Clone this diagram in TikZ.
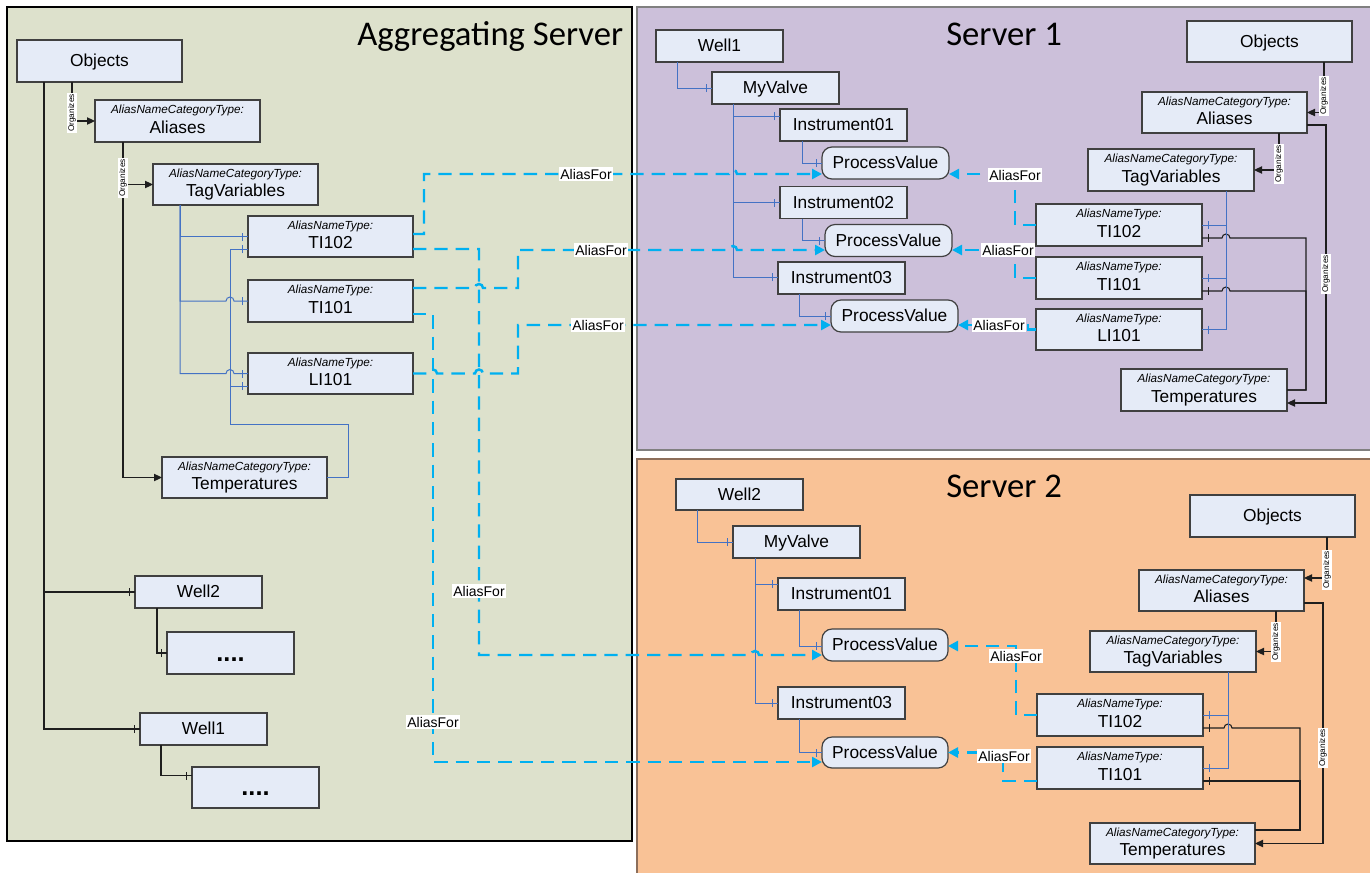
\documentclass[tikz,border=0pt]{standalone}
\usepackage{fontspec}
\setmainfont{Liberation Sans}
\newfontfamily\titlefont{Carlito}
\usetikzlibrary{arrows.meta,calc,decorations.markings}

\definecolor{aggbg}{RGB}{221,225,204}
\definecolor{sonebg}{RGB}{204,192,218}
\definecolor{stwobg}{RGB}{249,194,150}
\definecolor{boxfill}{RGB}{229,235,247}
\definecolor{boxline}{RGB}{64,64,64}
\definecolor{treeblue}{RGB}{68,114,196}
\definecolor{aliascyan}{RGB}{0,176,240}
\definecolor{lineblk}{RGB}{30,30,30}

\tikzset{
  bx/.style={draw=boxline, fill=boxfill, line width=0.9pt, inner sep=0pt, outer sep=0pt},
  rbx/.style={bx, rounded corners=7.5pt},
  typetxt/.style={font=\fontsize{8.8}{10}\selectfont\itshape, inner sep=0pt, anchor=base},
  maintxt/.style={font=\fontsize{13}{15}\selectfont, inner sep=0pt, anchor=base},
  dotstxt/.style={font=\fontsize{19}{20}\selectfont\bfseries, inner sep=0pt, anchor=base},
  titletxt/.style={font=\titlefont\fontsize{26}{30}\selectfont, inner sep=0pt, anchor=base west},
  blk/.style={draw=lineblk, line width=0.8pt},
  tree/.style={draw=treeblue, line width=0.75pt},
  arr/.style={-{Triangle[length=6pt,width=5.5pt]}},
  alias/.style={draw=aliascyan, line width=1.85pt, dash pattern=on 10pt off 6pt,
                -{Triangle[length=7.5pt,width=7.5pt]}},
  org/.style={fill=white, font=\fontsize{6.2}{7}\selectfont, rotate=90, inner sep=0.6pt},
  aliaslbl/.style={fill=white, font=\fontsize{10.5}{12}\selectfont, inner sep=1.2pt},
  onetick/.style={postaction={decorate, decoration={markings,
      mark=at position -4.5pt with {\draw[solid, line width=0.6pt] (0,-3pt) -- (0,3pt);}}}}
}

% name, cx, cy, w, h, type text, main text
\newcommand{\mkTypeBox}[7]{%
  \node[bx, minimum width=#4*0.75pt, minimum height=#5*0.75pt] (#1) at (#2,#3) {};
  \node[typetxt] (#1t) at ($(#1.center)+(0,-7.5)$) {#6};
  \node[maintxt] (#1m) at ($(#1.center)+(0,12)$) {#7};
}
% [style] name, cx, cy, w, h, text
\newcommand{\mkBox}[7][bx]{%
  \node[#1, minimum width=#5*0.75pt, minimum height=#6*0.75pt] (#2) at (#3,#4) {};
  \node[maintxt] (#2m) at ($(#2.center)+(0,5.5)$) {#7};
}
\newcommand{\mkDots}[5]{%
  \node[bx, minimum width=#4*0.75pt, minimum height=#5*0.75pt] (#1) at (#2,#3) {};
  \node[dotstxt] (#1m) at ($(#1.center)+(0,8)$) {....};
}

\begin{document}
\begin{tikzpicture}[x=0.75pt,y=-0.75pt]
\useasboundingbox (0,0) rectangle (1370,872);
\fill[white] (0,0) rectangle (1370,872);

% panels
\filldraw[fill=aggbg, draw=black, line width=1.1pt] (7,7) rectangle (632,841);
\filldraw[fill=sonebg, draw=gray, line width=1.1pt] (637,7) rectangle (1373,450);
\filldraw[fill=stwobg, draw={rgb,255:red,140;green,110;blue,90}, line width=1.1pt] (637,459) rectangle (1373,875);

\node[titletxt] (tAgg) at (357,45) {Aggregating Server};
\node[titletxt] (tSone) at (946,45) {Server 1};
\node[titletxt] (tStwo) at (946,497) {Server 2};

% ---------- aggregating server boxes
\mkBox{aObj}{99.5}{61}{165}{42}{Objects}
\mkTypeBox{aAli}{177.5}{121}{165}{42}{AliasNameCategoryType:}{Aliases}
\mkTypeBox{aTag}{235.5}{184.5}{165}{41}{AliasNameCategoryType:}{TagVariables}
\mkTypeBox{aTtwo}{330.5}{236.5}{165}{41}{AliasNameType:}{TI102}
\mkTypeBox{aTone}{330.5}{301}{165}{42}{AliasNameType:}{TI101}
\mkTypeBox{aLone}{330.5}{373.5}{165}{41}{AliasNameType:}{LI101}
\mkTypeBox{aTemp}{244.5}{477.5}{165}{41}{AliasNameCategoryType:}{Temperatures}
\mkBox{aWtwo}{198.5}{592}{127}{32}{Well2}
\mkDots{aDtwo}{230.5}{653}{127}{42}
\mkBox{aWone}{203.5}{729}{127}{32}{Well1}
\mkDots{aDone}{255.5}{787.5}{127}{41}

% ---------- server 1 boxes
\mkBox{sAWone}{719.5}{46}{127}{32}{Well1}
\mkBox{sAMV}{775.5}{88}{127}{32}{MyValve}
\mkBox{sAIone}{843.5}{125}{127}{32}{Instrument01}
\mkBox[rbx]{sAPone}{885.5}{163}{127}{32}{ProcessValue}
\mkBox{sAItwo}{843.5}{202.5}{127}{32}{Instrument02}
\mkBox[rbx]{sAPtwo}{888.5}{240.5}{127}{32}{ProcessValue}
\mkBox{sAIthree}{841.5}{278}{127}{32}{Instrument03}
\mkBox[rbx]{sAPthree}{894.5}{316}{127}{32}{ProcessValue}
\mkBox{sAObj}{1269.5}{41.5}{165}{41}{Objects}
\mkTypeBox{sAAli}{1224.5}{112.5}{165}{41}{AliasNameCategoryType:}{Aliases}
\mkTypeBox{sATag}{1171}{170}{166}{42}{AliasNameCategoryType:}{TagVariables}
\mkTypeBox{sATtwo}{1119}{225}{166}{42}{AliasNameType:}{TI102}
\mkTypeBox{sATone}{1119}{278}{166}{42}{AliasNameType:}{TI101}
\mkTypeBox{sALone}{1119}{329.5}{166}{41}{AliasNameType:}{LI101}
\mkTypeBox{sATemp}{1204}{390}{166}{42}{AliasNameCategoryType:}{Temperatures}

% ---------- server 2 boxes
\mkBox{sBWtwo}{739.5}{494.5}{127}{31}{Well2}
\mkBox{sBMV}{796.5}{542}{127}{32}{MyValve}
\mkBox{sBIone}{841.5}{594}{127}{32}{Instrument01}
\mkBox[rbx]{sBPone}{885}{645}{126}{32}{ProcessValue}
\mkBox{sBIthree}{841.5}{703}{127}{32}{Instrument03}
\mkBox[rbx]{sBPthree}{885}{752.5}{126}{31}{ProcessValue}
\mkBox{sBObj}{1272.5}{516}{165}{42}{Objects}
\mkTypeBox{sBAli}{1221.5}{590.5}{165}{41}{AliasNameCategoryType:}{Aliases}
\mkTypeBox{sBTag}{1173}{651.5}{166}{41}{AliasNameCategoryType:}{TagVariables}
\mkTypeBox{sBTtwo}{1120}{715}{166}{42}{AliasNameType:}{TI102}
\mkTypeBox{sBTone}{1120}{768}{166}{42}{AliasNameType:}{TI101}
\mkTypeBox{sBTemp}{1172.5}{843.5}{165}{41}{AliasNameCategoryType:}{Temperatures}

% ---------- aggregating connectors
\draw[blk,arr] ($(aObj.south west)+(55,0)$) |- (aAli.west);
\draw[blk,arr] ($(aAli.south west)+(28,0)$) |- (aTag.west);
\draw[blk,arr] ($(aAli.south west)+(28,0)$) |- (aTemp.west);
\draw[blk,onetick] ($(aObj.south west)+(27,0)$) |- (aWtwo.west);
\draw[blk,onetick] ($(aObj.south west)+(27,0)$) |- (aWone.west);
\draw[blk,onetick] ($(aWtwo.south west)+(22,0)$) |- (aDtwo.west);
\draw[blk,onetick] ($(aWone.south west)+(21,0)$) |- ($(aDone.west)+(0,-12)$);
\node[org] (aOrgA) at (72,113) {Organizes};
\node[org] (aOrgB) at (123,178) {Organizes};

\draw[tree,onetick] ($(aTag.south west)+(27,0)$) |- (aTtwo.west);
\draw[tree,onetick] ($(aTag.south west)+(27,0)$) -- (180,301) -- (226,301) arc(180:360:4) -- (aTone.west);
\draw[tree,onetick] ($(aTag.south west)+(27,0)$) -- (180,373.5) -- (226,373.5) arc(180:360:4) -- (aLone.west);
\draw[tree,onetick] (aTemp.east) -- (348,477.5) -- (348,424) -- (230,424) -- (230,249) -- ($(aTtwo.west)+(0,12.5)$);
\draw[tree,onetick] (aTemp.east) -- (348,477.5) -- (348,424) -- (230,424) -- (230,386) -- ($(aLone.west)+(0,12.5)$);

% ---------- server 1 connectors
\draw[tree,onetick] ($(sAWone.south west)+(21,0)$) |- (sAMV.west);
\draw[tree,onetick] ($(sAMV.south west)+(21,0)$) |- ($(sAIone.west)+(0,-9)$);
\draw[tree,onetick] ($(sAMV.south west)+(21,0)$) |- (sAItwo.west);
\draw[tree,onetick] ($(sAMV.south west)+(21,0)$) |- ($(sAIthree.west)+(0,-1)$);
\draw[tree,onetick] ($(sAIone.south west)+(22,0)$) |- (sAPone.west);
\draw[tree,onetick] ($(sAItwo.south west)+(22,0)$) |- (sAPtwo.west);
\draw[tree,onetick] ($(sAIthree.south west)+(21,0)$) |- (sAPthree.west);

\draw[blk,arr] ($(sAObj.south west)+(137,0)$) |- (sAAli.east);
\draw[blk,arr] ($(sAAli.south west)+(137,0)$) |- (sATag.east);
\draw[blk,arr] ($(sAAli.east)+(0,12.5)$) -- (1326,125) |- ($(sATemp.east)+(0,13)$);
\draw[blk,onetick] (sATemp.east) -- (1306,390) -- (1306,238) -- (1230,238) arc(0:-180:4) -- ($(sATtwo.east)+(0,13)$);
\draw[blk,onetick] (sATemp.east) -- (1306,390) -- (1306,291) -- (1230,291) arc(0:-180:4) -- ($(sATone.east)+(0,13)$);
\draw[tree,onetick] ($(sATag.south west)+(138,0)$) |- (sATtwo.east);
\draw[tree,onetick] ($(sATag.south west)+(138,0)$) |- (sATone.east);
\draw[tree,onetick] ($(sATag.south west)+(138,0)$) |- (sALone.east);
\node[org] (sAOrgA) at (1324,96) {Organizes};
\node[org] (sAOrgB) at (1279,164) {Organizes};
\node[org] (sAOrgC) at (1326,274) {Organizes};

% ---------- server 2 connectors
\draw[tree,onetick] ($(sBWtwo.south west)+(21,0)$) |- (sBMV.west);
\draw[tree,onetick] ($(sBMV.south west)+(22,0)$) |- ($(sBIone.west)+(0,-10)$);
\draw[tree,onetick] ($(sBMV.south west)+(22,0)$) |- (sBIthree.west);
\draw[tree,onetick] ($(sBIone.south west)+(21,0)$) |- ($(sBPone.west)+(0,1)$);
\draw[tree,onetick] ($(sBIthree.south west)+(21,0)$) |- (sBPthree.west);

\draw[blk,arr] ($(sBObj.south west)+(137,0)$) |- ($(sBAli.east)+(0,-12.5)$);
\draw[blk,arr] ($(sBAli.south west)+(137,0)$) |- (sBTag.east);
\draw[blk,arr] ($(sBAli.east)+(0,12.5)$) -- (1323,603) |- (sBTemp.east);
\draw[blk,onetick] ($(sBTemp.east)+(0,-13.5)$) -- (1300,830) -- (1300,728) -- (1232,728) arc(0:-180:4) -- ($(sBTtwo.east)+(0,13)$);
\draw[blk,onetick] ($(sBTemp.east)+(0,-13.5)$) -- (1300,830) -- (1300,781) -- ($(sBTone.east)+(0,13)$);
\draw[tree,onetick] ($(sBTag.south west)+(138,0)$) |- (sBTtwo.east);
\draw[tree,onetick] ($(sBTag.south west)+(138,0)$) |- (sBTone.east);
\node[org] (sBOrgA) at (1327,570) {Organizes};
\node[org] (sBOrgB) at (1276,642) {Organizes};
\node[org] (sBOrgC) at (1323,748) {Organizes};

% ---------- AliasFor connectors
\draw[alias] ($(aTtwo.east)+(0,-2.5)$) -- (424,234) -- (424,174) -- (729,174) arc(180:360:4) -- ($(sAPone.west)+(0,11)$);
\draw[alias] ($(aTtwo.east)+(0,12.5)$) -- (479,249) -- (479,655) -- (751,655) arc(180:360:4) -- ($(sBPone.west)+(0,10)$);
\draw[alias] ($(aTone.east)+(0,-13)$) -- (475,288) arc(180:360:4) -- (518,288) -- (518,250) -- (729,250) arc(180:360:4) -- ($(sAPtwo.west)+(0,9.5)$);
\draw[alias] ($(aTone.east)+(0,13)$) -- (433,314) -- (433,762) -- ($(sBPthree.west)+(0,9.5)$);
\draw[alias] (aLone.east) -- (429,373.5) arc(180:360:4) -- (475,373.5) arc(180:360:4) -- (518,373.5) -- (518,325) -- ($(sAPthree.west)+(0,9)$);

\draw[alias] (sATtwo.west) -- (1015,225) -- (1015,174) -- ($(sAPone.east)+(0,11)$);
\draw[alias] (sATone.west) -- (1015,278) -- (1015,250) -- ($(sAPtwo.east)+(0,9.5)$);
\draw[alias] (sALone.west) -- (1028,329.5) -- (1028,325) -- ($(sAPthree.east)+(0,9)$);
\draw[alias] (sBTtwo.west) -- (1016,715) -- (1016,646) -- ($(sBPone.east)+(0,1)$);
\draw[alias] ($(sBTone.west)+(0,13)$) -- (1003,781) -- (1003,752.5) -- (sBPthree.east);

\node[aliaslbl] (lAa) at (586,174) {AliasFor};
\node[aliaslbl] (lAb) at (479,591) {AliasFor};
\node[aliaslbl] (lAc) at (601,250) {AliasFor};
\node[aliaslbl] (lAd) at (433,722) {AliasFor};
\node[aliaslbl] (lAe) at (598,325) {AliasFor};
\node[aliaslbl] (lBa) at (1015,175) {AliasFor};
\node[aliaslbl] (lBb) at (1008,250) {AliasFor};
\node[aliaslbl] (lBc) at (999,325) {AliasFor};
\node[aliaslbl] (lCa) at (1016,656) {AliasFor};
\node[aliaslbl] (lCb) at (1004,756) {AliasFor};
\end{tikzpicture}
\end{document}
